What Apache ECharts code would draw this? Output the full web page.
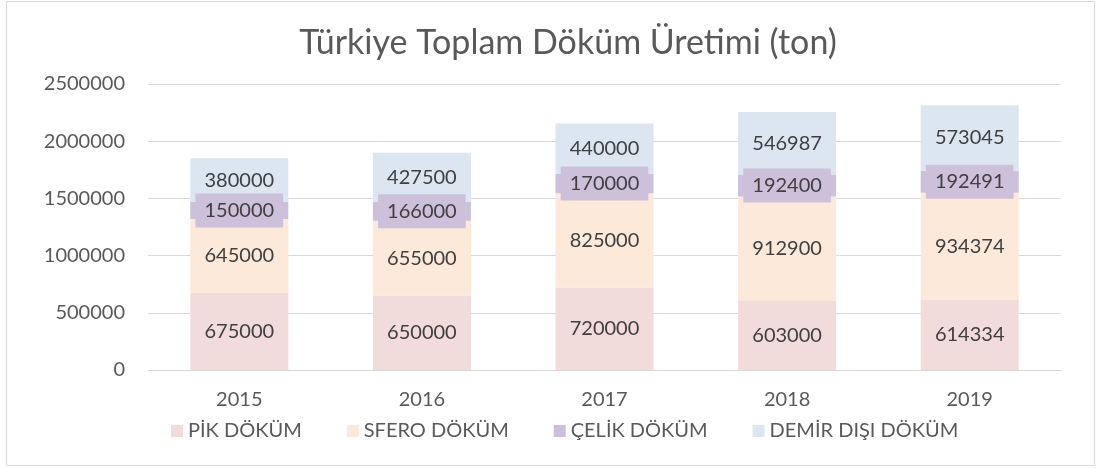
<!DOCTYPE html>
<html>
<head>
<meta charset="utf-8">
<script src="https://cdn.jsdelivr.net/npm/echarts@6/dist/echarts.min.js"></script>
<style>
  html, body { margin: 0; padding: 0; background: #fff; }
  #chart { width: 1099px; height: 468px; }
</style>
</head>
<body>
<div id="chart"></div>
<script>
const years = ['2015', '2016', '2017', '2018', '2019']
const pik = [675000, 650000, 720000, 603000, 614334]
const sfero = [645000, 655000, 825000, 912900, 934374]
const celik = [150000, 166000, 170000, 192400, 192491]
const demirDisi = [380000, 427500, 440000, 546987, 573045]

const font = 'Lato'
const chart = echarts.init(document.getElementById('chart'))

// ortak etiket ayarları
const label = {
  show: true,
  position: 'inside',
  color: '#404040',
  fontFamily: font,
  fontSize: 20
}

chart.setOption({
  animation: false,
  backgroundColor: '#fff',
  graphic: [{
    type: 'rect',
    shape: { x: 6.5, y: 1.5, width: 1088, height: 464 },
    style: { fill: 'none', stroke: '#D9D9D9', lineWidth: 1 },
    silent: true
  }],
  title: {
    text: 'Türkiye Toplam Döküm Üretimi (ton)',
    left: 563,
    textAlign: 'center',
    top: 21,
    textStyle: {
      fontFamily: font,
      fontWeight: 'normal',
      fontSize: 34,
      color: '#595959'
    }
  },
  legend: {
    bottom: 22,
    left: 166,
    icon: 'rect',
    itemWidth: 12,
    itemHeight: 12,
    itemGap: 45,
    textStyle: { fontFamily: font, fontSize: 20, color: '#595959' },
    data: ['PİK DÖKÜM', 'SFERO DÖKÜM', 'ÇELİK DÖKÜM', 'DEMİR DIŞI DÖKÜM']
  },
  grid: { left: 148, right: 38, top: 84, bottom: 98 },
  xAxis: {
    type: 'category',
    data: years,
    axisLine: { lineStyle: { color: '#D9D9D9' } },
    axisTick: { show: false },
    axisLabel: { fontFamily: font, fontSize: 20, color: '#595959', margin: 20 }
  },
  yAxis: {
    type: 'value',
    min: 0,
    max: 2500000,
    interval: 500000,
    axisLine: { show: false },
    axisTick: { show: false },
    splitLine: { lineStyle: { color: '#D9D9D9', width: 1 } },
    axisLabel: {
      fontFamily: font, fontSize: 20, color: '#595959', margin: 23,
      formatter: v => String(v)
    }
  },
  series: [
    {
      name: 'PİK DÖKÜM', type: 'bar', stack: 'toplam', barWidth: '53.7%',
      itemStyle: { color: '#F2DCDB' }, label: label, data: pik
    },
    {
      name: 'SFERO DÖKÜM', type: 'bar', stack: 'toplam',
      itemStyle: { color: '#FDE9D9' }, label: label, data: sfero
    },
    {
      name: 'ÇELİK DÖKÜM', type: 'bar', stack: 'toplam',
      itemStyle: { color: '#CCC0DA' },
      label: Object.assign({}, label, {
        backgroundColor: '#CCC0DA',
        padding: [6, 9],
        lineHeight: 22
      }),
      data: celik
    },
    {
      name: 'DEMİR DIŞI DÖKÜM', type: 'bar', stack: 'toplam',
      itemStyle: { color: '#DCE6F1' }, label: label, data: demirDisi
    }
  ]
})
</script>
</body>
</html>
